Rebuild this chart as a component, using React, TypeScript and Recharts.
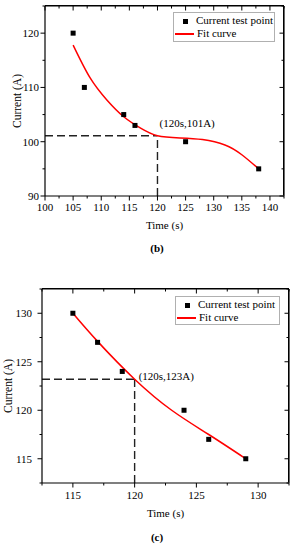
import React from "react";
import {
  ComposedChart,
  Line,
  Scatter,
  XAxis,
  YAxis,
  ReferenceLine,
  ReferenceDot,
} from "recharts";

// (b) measured points and fitted curve
const timeB = [105, 107, 114, 116, 125, 138];
const currentB = [120, 110, 105, 103, 100, 95];
const fitTimeB = [105, 108, 111, 114, 117, 120, 124, 128, 132, 135, 138];
const fitCurrentB = [117.8, 111.8, 107.7, 104.6, 102.5, 101.1, 100.7, 100.4, 99.4, 97.6, 95.0];
const xTicksB = [100, 102.5, 105, 107.5, 110, 112.5, 115, 117.5, 120, 122.5, 125, 127.5, 130, 132.5, 135, 137.5, 140, 142.5];
const xMajorB = [100, 105, 110, 115, 120, 125, 130, 135, 140];
const yTicksB = [90, 95, 100, 105, 110, 115, 120, 125];
const yMajorB = [90, 100, 110, 120];
const markB = { x: 120, y: 101.1, text: "(120s,101A)" };

// (c) measured points and fitted curve
const timeC = [115, 117, 119, 124, 126, 129];
const currentC = [130, 127, 124, 120, 117, 115];
const fitTimeC = [115, 117, 120, 123, 126, 129];
const fitCurrentC = [130, 127.1, 123.2, 120.0, 117.5, 115.0];
const xTicksC = [112.5, 115, 117.5, 120, 122.5, 125, 127.5, 130, 132.5];
const xMajorC = [115, 120, 125, 130];
const yTicksC = [112.5, 115, 117.5, 120, 122.5, 125, 127.5, 130, 132.5];
const yMajorC = [115, 120, 125, 130];
const markC = { x: 120, y: 123.2, text: "(120s,123A)" };

const FONT = "'Liberation Serif', 'Times New Roman', serif";

const zip = (xs: number[], ys: number[]) => xs.map((x, i) => ({ x, y: ys[i] }));

function AxisTick(props: any) {
  const { x, y, payload, side, majors, gap } = props;
  const v = payload.value;
  const major = majors.includes(v);
  const len = major ? 4.5 : 2.5;
  if (side === "bottom") {
    return (
      <g>
        <line x1={x} y1={y} x2={x} y2={y + len} stroke="#000" />
        {major && (
          <text x={x} y={y + gap} textAnchor="middle" dominantBaseline="central" fontSize={11} fontFamily={FONT} fill="#000">
            {v}
          </text>
        )}
      </g>
    );
  }
  return (
    <g>
      <line x1={x} y1={y} x2={x - len} y2={y} stroke="#000" />
      {major && (
        <text x={x - gap} y={y} textAnchor="end" dominantBaseline="central" fontSize={11} fontFamily={FONT} fill="#000">
          {v}
        </text>
      )}
    </g>
  );
}

// inward tick marks on the top and right frame edges
const frameTick = (dir: "down" | "left", len: number) => (p: any) =>
  dir === "down" ? (
    <line x1={p.cx} y1={p.cy} x2={p.cx} y2={p.cy + len} stroke="#000" />
  ) : (
    <line x1={p.cx} y1={p.cy} x2={p.cx - len} y2={p.cy} stroke="#000" />
  );

const Square = (p: any) => <rect x={p.cx - 2.5} y={p.cy - 2.5} width={5} height={5} fill="#000" />;

function Legend({ left, top, width, height }: { left: number; top: number; width: number; height: number }) {
  return (
    <div
      style={{
        position: "absolute",
        left,
        top,
        width,
        height,
        border: "1px solid #b0b0b0",
        boxSizing: "border-box",
        background: "#fff",
        fontFamily: FONT,
        fontSize: 11,
        color: "#000",
      }}
    >
      <div style={{ position: "absolute", left: 9, top: 5.5, width: 5, height: 5, background: "#000" }} />
      <div style={{ position: "absolute", left: 22, top: 1, lineHeight: "13px", whiteSpace: "nowrap" }}>Current test point</div>
      <div style={{ position: "absolute", left: 1, top: 20, width: 19, height: 1.6, background: "#ff0000" }} />
      <div style={{ position: "absolute", left: 23, top: 14, lineHeight: "13px", whiteSpace: "nowrap" }}>Fit curve</div>
    </div>
  );
}

interface PanelProps {
  top: number;
  height: number;
  margin: { top: number; right: number; left: number; bottom: number };
  yWidth: number;
  xHeight: number;
  xDomain: [number, number];
  yDomain: [number, number];
  xTicks: number[];
  xMajor: number[];
  yTicks: number[];
  yMajor: number[];
  points: { x: number; y: number }[];
  fit: { x: number; y: number }[];
  mark: { x: number; y: number; text: string };
  xGap: number;
  yGap: number;
  yLabelX: number;
  xLabelDy: number;
  markDx: number;
  markDy: number;
}

function Panel(p: PanelProps) {
  const [x0, x1] = p.xDomain;
  const [y0, y1] = p.yDomain;
  const plotLeft = p.margin.left + p.yWidth;
  const plotRight = 296 - p.margin.right;
  const plotBottom = p.height - p.margin.bottom - p.xHeight;
  return (
    <div style={{ position: "absolute", left: 0, top: p.top, width: 296, height: p.height }}>
      {/* plot frame (top and right edges) */}
      <div
        style={{
          position: "absolute",
          left: plotLeft,
          top: p.margin.top - 0.6,
          width: plotRight - plotLeft,
          height: plotBottom - p.margin.top,
          borderTop: "1.2px solid #000",
          borderRight: "1.2px solid #000",
          boxSizing: "border-box",
          pointerEvents: "none",
        }}
      />
      <div style={{ position: "absolute", left: 0, top: 0 }}>
        <ComposedChart width={296} height={p.height} margin={p.margin}>
          <XAxis
            type="number"
            dataKey="x"
            domain={p.xDomain}
            ticks={p.xTicks}
            interval={0}
            allowDataOverflow
            height={p.xHeight}
            tickSize={0}
            tickMargin={0}
            tickLine={false}
            axisLine={{ stroke: "#000", strokeWidth: 1.2 }}
            tick={<AxisTick side="bottom" majors={p.xMajor} gap={p.xGap} />}
            label={{
              content: (lp: any) => (
                <text
                  x={lp.viewBox.x + lp.viewBox.width / 2}
                  y={lp.viewBox.y + p.xLabelDy}
                  textAnchor="middle"
                  dominantBaseline="central"
                  fontSize={11}
                  fontFamily={FONT}
                  fill="#000"
                >
                  Time (s)
                </text>
              ),
            }}
          />
          <YAxis
            type="number"
            dataKey="y"
            domain={p.yDomain}
            ticks={p.yTicks}
            interval={0}
            allowDataOverflow
            width={p.yWidth}
            tickSize={0}
            tickMargin={0}
            tickLine={false}
            axisLine={{ stroke: "#000", strokeWidth: 1.2 }}
            tick={<AxisTick side="left" majors={p.yMajor} gap={p.yGap} />}
            label={{
              content: (lp: any) => {
                const cx = p.yLabelX;
                const cy = lp.viewBox.y + lp.viewBox.height / 2;
                return (
                  <text
                    x={cx}
                    y={cy}
                    transform={`rotate(-90 ${cx} ${cy})`}
                    textAnchor="middle"
                    dominantBaseline="central"
                    fontSize={11.5}
                    fontFamily={FONT}
                    fill="#000"
                  >
                    Current (A)
                  </text>
                );
              },
            }}
          />
          <ReferenceLine y={y1} stroke="#000" strokeWidth={1.2} ifOverflow="visible" />
          <ReferenceLine x={x1} stroke="#000" strokeWidth={1.2} ifOverflow="visible" />
          {p.xTicks.map((v) => (
            <ReferenceDot
              key={"tx" + v}
              x={v}
              y={y1}
              r={0}
              ifOverflow="visible"
              shape={frameTick("down", p.xMajor.includes(v) ? 4.5 : 2.5)}
            />
          ))}
          {p.yTicks.map((v) => (
            <ReferenceDot
              key={"ry" + v}
              x={x1}
              y={v}
              r={0}
              ifOverflow="visible"
              shape={frameTick("left", p.yMajor.includes(v) ? 4.5 : 2.5)}
            />
          ))}
          <ReferenceLine
            segment={[
              { x: x0, y: p.mark.y },
              { x: p.mark.x, y: p.mark.y },
            ]}
            stroke="#222"
            strokeWidth={1.4}
            strokeDasharray="8 4"
          />
          <ReferenceLine
            segment={[
              { x: p.mark.x, y: y0 },
              { x: p.mark.x, y: p.mark.y },
            ]}
            stroke="#222"
            strokeWidth={1.4}
            strokeDasharray="8 4"
          />
          <Scatter data={p.points} shape={Square} isAnimationActive={false} />
          <Line
            data={p.fit}
            dataKey="y"
            type="natural"
            stroke="#ff0000"
            strokeWidth={1.5}
            dot={false}
            activeDot={false}
            isAnimationActive={false}
          />
          <ReferenceDot
            x={p.mark.x}
            y={p.mark.y}
            r={0}
            fill="none"
            stroke="none"
            label={{
              content: (lp: any) => (
                <text
                  x={lp.viewBox.x + p.markDx}
                  y={lp.viewBox.y + p.markDy}
                  dominantBaseline="central"
                  fontSize={11}
                  fontFamily={FONT}
                  fill="#000"
                >
                  {p.mark.text}
                </text>
              ),
            }}
          />
        </ComposedChart>
      </div>
    </div>
  );
}

const captionStyle: React.CSSProperties = {
  position: "absolute",
  width: 296,
  left: 0,
  textAlign: "center",
  fontFamily: FONT,
  fontSize: 11,
  fontWeight: "bold",
  lineHeight: "14px",
  paddingLeft: 18,
  boxSizing: "border-box",
};

export default function App() {
  return (
    <div style={{ position: "absolute", left: 0, top: 0, width: 296, height: 550, background: "#fff", overflow: "hidden" }}>
      <Panel
        top={0}
        height={240}
        margin={{ top: 6, right: 12, left: 0, bottom: 0 }}
        yWidth={45}
        xHeight={44}
        xDomain={[100, 142.5]}
        yDomain={[90, 125]}
        xTicks={xTicksB}
        xMajor={xMajorB}
        yTicks={yTicksB}
        yMajor={yMajorB}
        points={zip(timeB, currentB)}
        fit={zip(fitTimeB, fitCurrentB)}
        mark={markB}
        xGap={11}
        yGap={6}
        yLabelX={17}
        xLabelDy={29}
        markDx={2}
        markDy={-13}
      />
      <Legend left={173} top={12} width={102} height={30} />
      <div style={{ ...captionStyle, top: 241 }}>(b)</div>

      <Panel
        top={280}
        height={250}
        margin={{ top: 9, right: 7, left: 0, bottom: 0 }}
        yWidth={42}
        xHeight={47}
        xDomain={[112.5, 132.5]}
        yDomain={[112.5, 132.5]}
        xTicks={xTicksC}
        xMajor={xMajorC}
        yTicks={yTicksC}
        yMajor={yMajorC}
        points={zip(timeC, currentC)}
        fit={zip(fitTimeC, fitCurrentC)}
        mark={markC}
        xGap={12}
        yGap={10}
        yLabelX={8}
        xLabelDy={30}
        markDx={4}
        markDy={-3}
      />
      <Legend left={175} top={296} width={105} height={29} />
      <div style={{ ...captionStyle, top: 530 }}>(c)</div>
    </div>
  );
}
